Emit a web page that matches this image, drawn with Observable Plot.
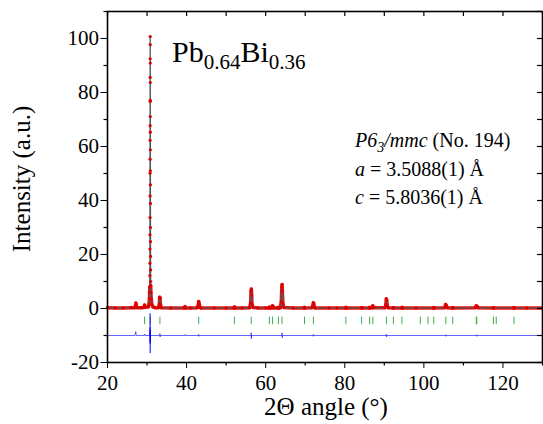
<!DOCTYPE html>
<html><head><meta charset="utf-8">
<script src="https://cdn.jsdelivr.net/npm/d3@7"></script>
<script src="https://cdn.jsdelivr.net/npm/@observablehq/plot@0.6"></script>
<style>body{margin:0;background:#fff} svg{display:block}</style>
</head><body><div id="chart"></div>
<script>
const obsX = [20,22,24,26,26.9,27.1,27.2,27.3,27.5,28.5,29.2,29.37,29.55,
  30.3,30.5,30.6,30.66,30.7,30.72,30.73,30.74,30.75,30.76,30.765,30.77,30.775,30.78,30.785,30.79,30.795,30.8,30.805,
  30.81,30.815,30.82,30.825,30.83,30.835,30.84,30.845,30.85,30.86,30.87,30.88,30.89,30.9,30.91,30.93,30.97,31.05,31.2,31.5,32,
  32.9,33.1,33.2,33.3,33.4,33.6,36,39.4,39.6,39.8,41,
  42.7,42.95,43.07,43.17,43.35,43.6,47,50,51.9,52.1,52.3,54,
  55.9,56.2,56.3,56.38,56.45,56.55,56.8,58,60,60.8,60.93,61.05,61.5,61.7,61.85,62,63.1,63.2,63.3,
  63.7,63.95,64.08,64.15,64.22,64.35,64.6,67,69.7,69.8,69.9,
  71.7,71.95,72.05,72.15,72.3,72.5,76,78,80.2,80.3,80.4,84.2,84.3,84.4,86.2,86.3,86.4,86.95,87.1,87.25,
  90.2,90.4,90.5,90.6,90.75,91,92.2,92.3,92.4,94.4,94.5,94.6,98,102.4,102.5,102.6,
  105.3,105.5,105.65,105.9,107.2,107.3,107.4,113,113.25,113.45,113.7,117.5,117.6,117.7,122.7,122.8,122.9,126,130];
const obsI = [0.3,0.2,0.2,0.3,0.3,1.2,2.0,1.0,0.3,0.3,0.4,1.3,0.5,
  0.6,1.5,3.5,6,8.1,12.2,16.8,22,27.3,33.7,41.7,50.1,55.3,62.3,67.7,76.7,85.6,92.5,100.7,
  97.7,90.9,83.7,77.1,71.1,65.3,58.8,51,45.8,38.9,30,24.8,19.3,14.3,10,8.5,6,3.5,1.5,0.6,0.3,
  0.3,1.5,4.2,3.9,1.2,0.3,0.2,0.2,0.7,0.2,0.2,
  0.3,1.2,2.6,1.8,0.4,0.2,0.2,0.2,0.2,0.6,0.2,0.2,
  0.3,2.0,6.5,7.2,5.0,1.5,0.4,0.2,0.2,0.2,0.5,0.2,0.2,1.0,0.8,0.2,0.2,0.4,0.2,
  0.3,2.5,8.0,8.9,6.5,1.8,0.4,0.2,0.2,0.4,0.2,
  0.3,1.2,2.1,1.8,0.6,0.2,0.2,0.2,0.2,0.4,0.2,0.2,0.3,0.2,0.2,0.4,0.2,0.3,1.0,0.3,
  0.3,1.5,3.6,3.0,1.0,0.3,0.2,0.3,0.2,0.2,0.4,0.2,0.2,0.2,0.3,0.2,
  0.3,1.5,1.2,0.3,0.2,0.3,0.2,0.3,1.0,0.8,0.3,0.2,0.3,0.2,0.2,0.3,0.2,0.2,0.2];

// Calculated profile (sparse)
const calcX = [20,27.0,27.2,27.4,29.25,29.37,29.5,30.5,30.66,30.72,30.76,30.8,30.84,30.88,30.94,31.1,31.5,
  33.0,33.22,33.3,33.45,42.85,43.07,43.17,43.35,56.1,56.3,56.38,56.45,56.6,61.55,61.72,61.9,
  63.85,64.08,64.15,64.22,64.4,71.85,72.05,72.15,72.3,86.95,87.1,87.25,90.3,90.5,90.6,90.8,
  105.35,105.52,105.65,105.85,113.05,113.28,113.45,113.65,130];
const calcI = [0.2,0.2,1.8,0.2,0.2,1.1,0.2,1.2,5,15,55,100,55,15,6,2,0.4,
  0.2,4.0,3.8,0.2,0.2,2.5,1.8,0.2,0.2,6.5,7.0,4.8,0.2,0.2,0.9,0.2,
  0.2,7.8,8.7,6.3,0.2,0.2,2.0,1.7,0.2,0.2,0.9,0.2,0.2,3.5,2.9,0.2,
  0.2,1.4,1.1,0.2,0.2,0.9,0.7,0.2,0.2];

// Difference curve (offset)
const diffX = [20,26.95,27.15,27.3,29.3,29.4,29.5,30.7,30.74,30.76,30.78,30.8,30.82,30.84,30.86,30.9,
  33.2,33.25,33.3,33.35,39.5,39.6,39.7,43.0,43.05,43.1,43.15,56.3,56.33,56.38,56.45,64.1,64.13,64.18,64.25,
  72.0,72.05,72.1,72.2,90.45,90.5,90.58,90.65,105.5,105.55,105.62,105.7,113.3,113.35,113.4,113.5,130];
const diffI = [-10,-10,-8.6,-10,-10,-9.5,-10,-10,-7,-13,-1.8,-16.5,-8,-12.5,-9,-10,
  -10,-9.3,-10.5,-10,-10,-9.6,-10,-10,-9.6,-10.3,-10,-10,-9,-11.2,-10,-10,-9,-10.8,-10,
  -10,-9.6,-10.3,-10,-10,-9.5,-10.5,-10,-10,-9.7,-10.3,-10,-10,-9.7,-10.3,-10,-10];

// Bragg reflection positions (2θ)
const braggX = [29.37,30.79,33.26,43.07,52.09,56.33,60.93,61.74,63.21,64.13,69.82,72.07,80.28,84.26,86.28,87.10,
  90.54,92.30,94.45,99.1,101.06,102.5,105.56,107.3,113.25,113.38,117.6,118.3,122.8];

const xMajor = [20,40,60,80,100,120];
const xMinor = [30,50,70,90,110,130];
const yMajor = [-20,0,20,40,60,80,100];
const yMinor = [-10,10,30,50,70,90,110];

const obs = obsX.map((x,i)=>({x, y: obsI[i]}));
const calc = calcX.map((x,i)=>({x, y: calcI[i]}));
const diff = diffX.map((x,i)=>({x, y: diffI[i]}));

const W = 543, H = 424, mL = 107, mR = 1, mT = 11, mB = 62;
const pW = W - mL - mR, pH = H - mT - mB;

const plot = Plot.plot({
  width: W, height: H, marginLeft: mL, marginRight: mR, marginTop: mT, marginBottom: mB,
  style: {fontFamily: "'Liberation Serif','Times New Roman',serif", fontSize: "21px", background: "white", color: "black", overflow: "visible"},
  x: {domain: [20,130], ticks: xMajor, tickSize: 6, tickPadding: 7, tickFormat: d => String(d), label: null},
  y: {domain: [-20,110], ticks: yMajor, tickSize: 6.5, tickPadding: 2, tickFormat: d => String(d), label: null},
  marks: [
    // dense observed points merge into a thick band; sparse points (steep flank) stay dots
    Plot.line(obs, {x: "x", y: d => d.y < 10 ? d.y : NaN, stroke: "#ee1111", strokeWidth: 3.5}),
    Plot.line(calc, {x: "x", y: "y", stroke: "#555", strokeWidth: 1.3}),
    Plot.dot(obs, {x: "x", y: "y", r: 1.6, fill: "#dd0000", stroke: "none"}),
    Plot.ruleX(braggX, {x: d => d, y1: -3.2, y2: -6.0, stroke: "#3fae49", strokeWidth: 1}),
    Plot.line(diff, {x: "x", y: "y", stroke: "#0000ff", strokeOpacity: 0.6, strokeWidth: 1}),
    Plot.ruleX(xMinor, {x: d => d, insetTop: pH, insetBottom: -3.5, strokeWidth: 1.2}),
    Plot.ruleX(xMajor.concat(xMinor), {x: d => d, insetBottom: pH - 5, strokeWidth: 1.2}),
    Plot.ruleY(yMinor, {y: d => d, insetRight: pW, insetLeft: -3.5, strokeWidth: 1.2}),
    Plot.ruleY(yMajor.concat(yMinor), {y: d => d, insetLeft: pW - 5, strokeWidth: 1.2}),
    Plot.frame({stroke: "black", strokeWidth: 1.6})
  ]
});

const svg = d3.select(plot);
const serif = "'Liberation Serif','Times New Roman',serif";
svg.append("text").attr("transform", "translate(30,179) rotate(-90)")
  .attr("text-anchor", "middle").attr("font-family", serif).attr("font-size", 25).attr("fill", "black")
  .text("Intensity (a.u.)");
svg.append("text").attr("x", 326).attr("y", 415)
  .attr("text-anchor", "middle").attr("font-family", serif).attr("font-size", 25).attr("fill", "black")
  .text("2Θ angle (°)");

const t1 = svg.append("text").attr("x", 172).attr("y", 62).attr("text-anchor", "start")
  .attr("font-family", serif).attr("font-size", 30).attr("fill", "black");
t1.append("tspan").text("Pb");
t1.append("tspan").attr("font-size", 21).attr("dy", 7).text("0.64");
t1.append("tspan").attr("dy", -7).text("Bi");
t1.append("tspan").attr("font-size", 21).attr("dy", 7).text("0.36");

const l1 = svg.append("text").attr("x", 355).attr("y", 147).attr("text-anchor", "start")
  .attr("font-family", serif).attr("font-size", 20).attr("fill", "black");
l1.append("tspan").attr("font-style", "italic").text("P");
l1.append("tspan").attr("font-style", "italic").text("6");
l1.append("tspan").attr("font-style", "italic").attr("font-size", 14).attr("dy", 5).text("3");
l1.append("tspan").attr("font-style", "italic").attr("dy", -5).text("/mmc");
l1.append("tspan").text(" (No. 194)");

const l2 = svg.append("text").attr("x", 355).attr("y", 176).attr("text-anchor", "start")
  .attr("font-family", serif).attr("font-size", 20).attr("fill", "black");
l2.append("tspan").attr("font-style", "italic").text("a");
l2.append("tspan").text(" = 3.5088(1) Å");

const l3 = svg.append("text").attr("x", 355).attr("y", 204).attr("text-anchor", "start")
  .attr("font-family", serif).attr("font-size", 20).attr("fill", "black");
l3.append("tspan").attr("font-style", "italic").text("c");
l3.append("tspan").text(" = 5.8036(1) Å");

document.getElementById("chart").appendChild(plot);
</script></body></html>
